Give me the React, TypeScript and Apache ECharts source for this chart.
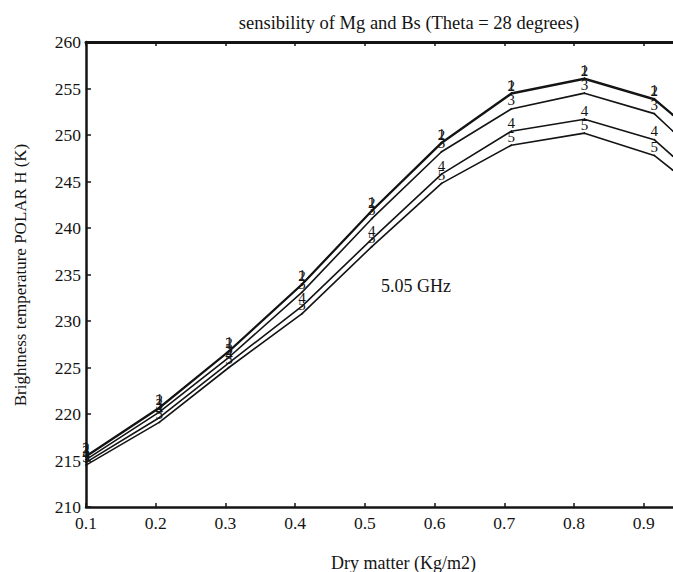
import React, { useEffect, useRef } from "react";
import * as echarts from "echarts";

const TITLE = "sensibility of Mg and Bs (Theta = 28 degrees)";
const X_NAME = "Dry matter (Kg/m2)";
const Y_NAME = "Brightness temperature POLAR H (K)";
const NOTE = "5.05 GHz";

const X_MIN = 0.1;
const X_MAX = 0.942;
const X_TICKS = [0.1, 0.2, 0.3, 0.4, 0.5, 0.6, 0.7, 0.8, 0.9];
const Y_MIN = 210;
const Y_MAX = 260;
const Y_STEP = 5;

const dryMatter = [0.1, 0.205, 0.305, 0.41, 0.51, 0.61, 0.71, 0.815, 0.915, 0.942];

const curve1 = [215.5, 220.7, 226.8, 234.0, 241.9, 249.2, 254.5, 256.1, 253.9, 252.2];
const curve2 = [215.4, 220.6, 226.7, 233.9, 241.8, 249.1, 254.4, 256.0, 253.8, 252.1];
const curve3 = [215.1, 220.2, 226.1, 233.1, 241.0, 248.2, 252.8, 254.5, 252.3, 250.4];
const curve4 = [214.8, 219.6, 225.5, 231.6, 238.8, 245.8, 250.4, 251.7, 249.5, 247.7];
const curve5 = [214.5, 219.1, 225.0, 230.8, 238.0, 244.8, 248.9, 250.2, 247.8, 246.2];

const curves = [
  { name: "1", values: curve1 },
  { name: "2", values: curve2 },
  { name: "3", values: curve3 },
  { name: "4", values: curve4 },
  { name: "5", values: curve5 },
];

const FONT = "'Liberation Serif', 'DejaVu Serif', serif";
const INK = "#141414";

export default function App() {
  const ref = useRef<HTMLDivElement>(null);

  useEffect(() => {
    if (!ref.current) return;
    const chart = echarts.init(ref.current, undefined, { renderer: "svg" });

    const series = curves.map((c) => ({
      type: "line",
      name: c.name,
      xAxisIndex: 0,
      yAxisIndex: 0,
      color: INK,
      symbol: "circle",
      symbolSize: 1,
      showSymbol: true,
      clip: true,
      lineStyle: { color: INK, width: 1.6 },
      itemStyle: { color: INK, borderColor: INK },
      label: {
        show: true,
        position: "top",
        distance: 0,
        formatter: "{a}",
        fontFamily: FONT,
        fontSize: 15,
        color: INK,
        textBorderWidth: 0,
      },
      emphasis: { disabled: true },
      data: c.values.map((v, i) => {
        const item: any = { value: [dryMatter[i], v] };
        if (i === c.values.length - 1) item.label = { show: false };
        return item;
      }),
    }));

    const fmtX = (v: number) =>
      Math.abs(v * 10 - Math.round(v * 10)) < 1e-6 ? v.toFixed(1) : "";

    chart.setOption({
      animation: false,
      color: [INK],
      backgroundColor: "#ffffff",
      title: {
        text: TITLE,
        left: 409,
        top: 13,
        textAlign: "center",
        padding: 0,
        textStyle: { fontFamily: FONT, fontSize: 18.5, fontWeight: "normal", color: INK },
      },
      grid: { left: 86, right: 0, top: 42, bottom: 65, outerBoundsMode: "none", containLabel: false },
      xAxis: [
        {
          type: "value",
          position: "bottom",
          min: X_MIN,
          max: X_MAX,
          interval: 0.1,
          name: X_NAME,
          nameLocation: "middle",
          nameGap: 47,
          nameTextStyle: { fontFamily: FONT, fontSize: 18, color: INK, padding: [0, 0, 0, 48] },
          axisLine: { show: true, lineStyle: { color: INK, width: 2.5 } },
          axisTick: { show: true, inside: true, length: 4, customValues: X_TICKS, lineStyle: { color: INK, width: 1.5 } },
          axisLabel: { customValues: X_TICKS, formatter: fmtX, margin: 7, fontFamily: FONT, fontSize: 17.5, color: INK },
          splitLine: { show: false },
        },
        {
          type: "value",
          position: "top",
          min: X_MIN,
          max: X_MAX,
          interval: 0.1,
          axisLine: { show: true, lineStyle: { color: INK, width: 3 } },
          axisTick: { show: true, inside: true, length: 4, customValues: X_TICKS, lineStyle: { color: INK, width: 1.5 } },
          axisLabel: { show: false },
          splitLine: { show: false },
        },
      ],
      yAxis: {
        type: "value",
        min: Y_MIN,
        max: Y_MAX,
        interval: Y_STEP,
        axisLine: { show: true, lineStyle: { color: INK, width: 2.5 } },
        axisTick: { show: true, inside: true, length: 5, lineStyle: { color: INK, width: 1.5 } },
        axisLabel: { margin: 5, fontFamily: FONT, fontSize: 17.5, color: INK },
        splitLine: { show: false },
      },
      graphic: [
        {
          type: "text",
          x: 20,
          y: 275,
          rotation: Math.PI / 2,
          style: {
            text: Y_NAME,
            fontFamily: FONT,
            fontSize: 17,
            fill: INK,
            textAlign: "center",
            textVerticalAlign: "middle",
          },
        },
        {
          type: "text",
          x: 416,
          y: 286,
          style: {
            text: NOTE,
            fontFamily: FONT,
            fontSize: 18,
            fill: INK,
            textAlign: "center",
            textVerticalAlign: "middle",
          },
        },
      ],
      series,
    });

    return () => chart.dispose();
  }, []);

  return (
    <div
      ref={ref}
      style={{ position: "fixed", left: 0, top: 0, width: 673, height: 572, background: "#fff" }}
    />
  );
}
